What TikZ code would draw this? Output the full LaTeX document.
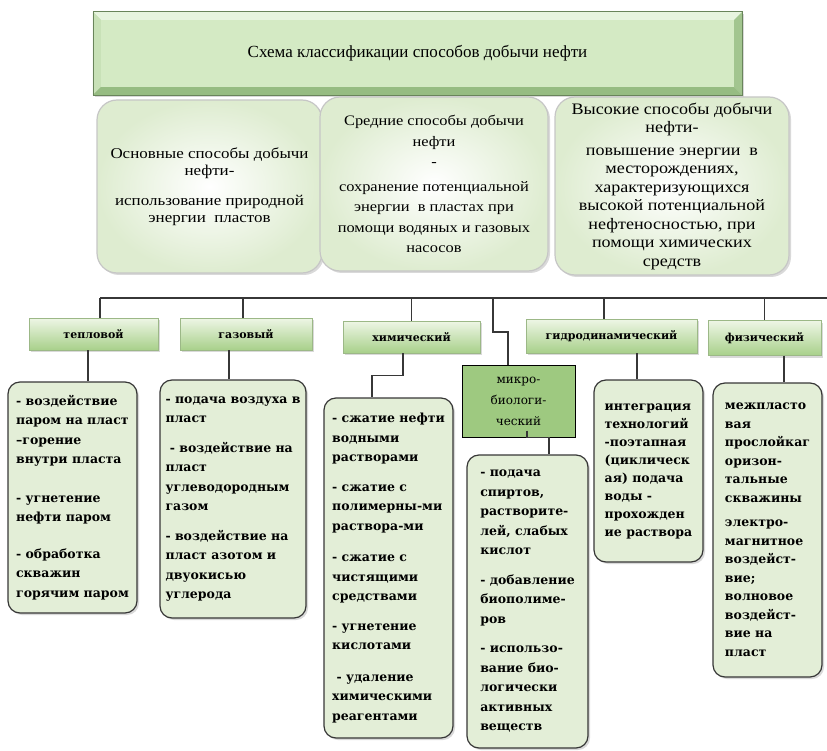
\documentclass[tikz,border=0pt]{standalone}
\usepackage{fontspec}
\setmainfont{Liberation Serif}
\newfontfamily\wideserif[FakeStretch=1.13]{Liberation Serif}
\newfontfamily\boxfont{DejaVu Serif}
\usetikzlibrary{shadows}
\definecolor{titlegreen}{RGB}{212,234,196}
\definecolor{titleedge}{RGB}{150,188,130}
\definecolor{toppale}{RGB}{222,236,208}
\definecolor{catlight}{RGB}{238,246,230}
\definecolor{catdark}{RGB}{168,208,138}
\definecolor{detailfill}{RGB}{227,238,215}
\definecolor{microgreen}{RGB}{158,201,128}
\definecolor{linegray}{RGB}{55,55,55}

\begin{document}
\begin{tikzpicture}[x=1pt,y=-1pt]
	\tikzstyle{head} = [fill=titlegreen,font=\fontsize{17}{20}\selectfont,drop shadow={shadow xshift=2pt,shadow yshift=-2pt,opacity=0.3}]
	\tikzstyle{bevel} = [draw=none]
	\tikzstyle{upper} = [rounded corners=20pt,draw=gray!45,line width=1.2pt,inner color=white,outer color=toppale,align=center,inner sep=2pt,font=\wideserif\fontsize{15}{16.5}\selectfont,drop shadow={shadow xshift=2pt,shadow yshift=-2pt,opacity=0.3}]
	\tikzstyle{cat} = [draw=catdark!70!gray,top color=catlight,bottom color=catdark,inner sep=1pt,font=\boxfont\bfseries\fontsize{11}{13}\selectfont,drop shadow={shadow xshift=2pt,shadow yshift=-2pt,opacity=0.3}]
	\tikzstyle{micro} = [draw=black,line width=1pt,fill=microgreen,align=center,inner sep=1pt,font=\boxfont\fontsize{12}{21}\selectfont]
	\tikzstyle{detail} = [rounded corners=12pt,draw=linegray,line width=1.2pt,fill=detailfill,align=left,inner sep=2pt,font=\boxfont\bfseries\fontsize{12.5}{19.5}\selectfont,drop shadow={shadow xshift=2pt,shadow yshift=-2pt,opacity=0.3}]
	\tikzstyle{edge} = [-,draw=linegray,line width=1.3pt]
	\useasboundingbox (0,0) rectangle (827,751);
	\node[head,minimum width=649pt,minimum height=83pt] (title) at (417.5,53.5) {};
	\coordinate (inw) at ([shift={(8pt,-8pt)}]title.north west);
	\coordinate (ine) at ([shift={(-8pt,-8pt)}]title.north east);
	\coordinate (isw) at ([shift={(8pt,8pt)}]title.south west);
	\coordinate (ise) at ([shift={(-8pt,8pt)}]title.south east);
	\fill[bevel,titlegreen!55!white] (title.north west)--(title.north east)--(ine)--(inw)--cycle;
	\fill[bevel,titlegreen!80!titleedge] (title.north west)--(inw)--(isw)--(title.south west)--cycle;
	\fill[bevel,titleedge!80!titlegreen] (title.north east)--(ine)--(ise)--(title.south east)--cycle;
	\fill[bevel,titleedge] (title.south west)--(title.south east)--(ise)--(isw)--cycle;
	\draw[titleedge!70!black,line width=0.6pt] (title.north west) rectangle (title.south east);
	\node[font=\fontsize{17}{20}\selectfont] (ttext) at (title.center) {Схема классификации способов добычи нефти};
	\node[upper,minimum width=225pt,minimum height=173pt] (b1) at (209.5,186.5) {Основные способы добычи\\нефти-\\[14pt]использование природной\\энергии \ пластов};
	\node[upper,minimum width=228pt,minimum height=174pt,font=\wideserif\fontsize{14.5}{20.5}\selectfont] (b2) at (434,184) {Средние способы добычи\\нефти\\-\\[4pt]сохранение потенциальной\\энергии \ в пластах при\\помощи водяных и газовых\\насосов};
	\node[upper,minimum width=234pt,minimum height=178pt,font=\wideserif\fontsize{16}{18.5}\selectfont] (b3) at (672,186) {Высокие способы добычи\\нефти-\\[4pt]повышение энергии \ в\\месторождениях,\\характеризующихся\\высокой потенциальной\\нефтеносностью, при\\помощи химических\\средств};
	\node[cat,minimum width=129pt,minimum height=32pt] (c1) at (93.5,334) {тепловой};
	\node[cat,minimum width=132pt,minimum height=32pt] (c2) at (246,334) {газовый};
	\node[cat,minimum width=137pt,minimum height=32pt] (c3) at (411.5,337) {химический};
	\node[cat,minimum width=171pt,minimum height=34pt] (c4) at (611.5,336) {гидродинамический};
	\node[cat,minimum width=113pt,minimum height=35pt] (c5) at (764.5,338) {физический};
	\node[micro,minimum width=113pt,minimum height=72pt] (m) at (518.5,401) {микро-\\биологи-\\ческий};
	\node[detail,minimum width=129pt,minimum height=231pt] (d1) at (72.5,497.5) {- воздействие\\паром на пласт\\–горение\\внутри пласта\\[19pt]- угнетение\\нефти паром\\[17pt]- обработка\\скважин\\горячим паром};
	\node[detail,minimum width=146pt,minimum height=238pt] (d2) at (233,499) {- подача воздуха в\\пласт\\[10pt]\ - воздействие на\\пласт\\углеводородным\\газом\\[10pt]- воздействие на\\пласт азотом и\\двуокисью\\углерода};
	\node[detail,minimum width=129pt,minimum height=340pt] (d3) at (388.5,568) {- сжатие нефти\\водными\\растворами\\[10pt]- сжатие с\\полимерны-ми\\раствора-ми\\[12pt]- сжатие с\\чистящими\\средствами\\[10pt]- угнетение\\кислотами\\[12pt]\ - удаление\\химическими\\реагентами};
	\node[detail,minimum width=121pt,minimum height=293pt] (d4) at (527.5,601.5) {- подача\\спиртов,\\растворите-\\лей, слабых\\кислот\\[10pt]- добавление\\биополиме-\\ров\\[10pt]- использо-\\вание био-\\логически\\активных\\веществ};
	\node[detail,minimum width=109pt,minimum height=182pt,font=\boxfont\bfseries\fontsize{12.5}{18}\selectfont] (d5) at (648.5,471) {интеграция\\технологий\\-поэтапная\\(циклическ\\ая) подача\\воды -\\прохожден\\ие раствора};
	\node[detail,minimum width=109pt,minimum height=294pt,font=\boxfont\bfseries\fontsize{12.5}{18.5}\selectfont] (d6) at (767.5,530) {межпласто\\вая\\прослойкаг\\оризон-\\тальные\\скважины\\[6pt]электро-\\магнитное\\воздейст-\\вие;\\волновое\\воздейст-\\вие на\\пласт};

	\coordinate (bl) at (100,298);
	\coordinate (br) at (827,298);
	\coordinate (mk) at (493,298);
	\coordinate (mb) at (493,332);
	\draw[edge] (br)--(bl);
	\draw[edge] (bl)--(bl |- c1.north);
	\draw[edge] ([xshift=-3]c2.north |- bl)--([xshift=-3]c2.north);
	\draw[edge] (c3.north |- bl)--(c3.north);
	\draw[edge] (mk)--(mb) -| ([xshift=-10.5]m.north);
	\draw[edge] ([xshift=-7.5]c4.north |- bl)--([xshift=-7.5]c4.north);
	\draw[edge] (c5.north |- bl)--(c5.north);
	\draw[edge] ([xshift=-5.5]c1.south)--([xshift=-5.5]c1.south |- d1.north);
	\draw[edge] ([xshift=-4]d2.north |- c2.south)--([xshift=-4]d2.north);
	\draw[edge] ([xshift=-8.5]c3.south)--++(0,22) -| ([xshift=-16.5]d3.north);
	\draw[edge] ([xshift=8.5,yshift=7]m.south)--([xshift=8.5]m.south) -| ([xshift=21.5]d4.north);
	\draw[edge] ([xshift=-11.5]d5.north |- c4.south)--([xshift=-11.5]d5.north);
	\draw[edge] ([xshift=16.5]d6.north |- c5.south)--([xshift=16.5]d6.north);
\end{tikzpicture}
\end{document}
